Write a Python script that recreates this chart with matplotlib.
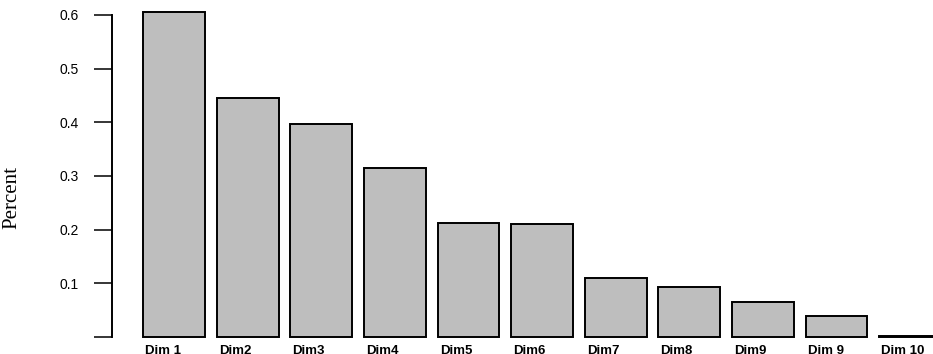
import numpy as np
import matplotlib.pyplot as plt

dims = ["Dim 1", "Dim2", "Dim3", "Dim4", "Dim5", "Dim6",
        "Dim7", "Dim8", "Dim9", "Dim 9", "Dim 10"]
percent = [0.605, 0.445, 0.396, 0.314, 0.212, 0.210,
           0.110, 0.093, 0.065, 0.040, 0.001]
yticks = [0.0, 0.1, 0.2, 0.3, 0.4, 0.5, 0.6]
yticklabels = ["", "0.1", "0.2", "0.3", "0.4", "0.5", "0.6"]

W, H = 933, 354
fig = plt.figure(figsize=(W / 100, H / 100), dpi=100)
ax = fig.add_axes([112 / W, 17 / H, (W - 112) / W, 337 / H])

x = np.arange(len(dims))
bw = 0.84
ax.bar(x, percent, width=bw, color="#bebebe", edgecolor="black",
       linewidth=1.4, clip_on=False)

ax.set_xlim(-0.842, 10.31)
ax.set_ylim(0, 0.6276)

for s in ["top", "right", "bottom"]:
    ax.spines[s].set_visible(False)
ax.spines["left"].set_bounds(0, 0.6)
ax.spines["left"].set_linewidth(1.4)

ax.set_yticks(yticks)
ax.set_yticklabels(yticklabels, fontsize=10, family="Liberation Sans")
ax.tick_params(axis="y", length=13, width=1.1, pad=11)
ax.set_xticks([])

# category names sit left-aligned under each bar
for xi, name in zip(x, dims):
    ax.text(xi - bw / 2 + 0.03, -8 / 337, name, transform=ax.get_xaxis_transform(),
            ha="left", va="top", fontsize=9.5, fontweight="bold",
            family="Liberation Sans", clip_on=False)

fig.text(12 / W, 1 - 198 / H, "Percent", rotation=90, ha="center", va="center",
         fontsize=15, family="Liberation Serif")

fig.savefig("out.png", dpi=100)
